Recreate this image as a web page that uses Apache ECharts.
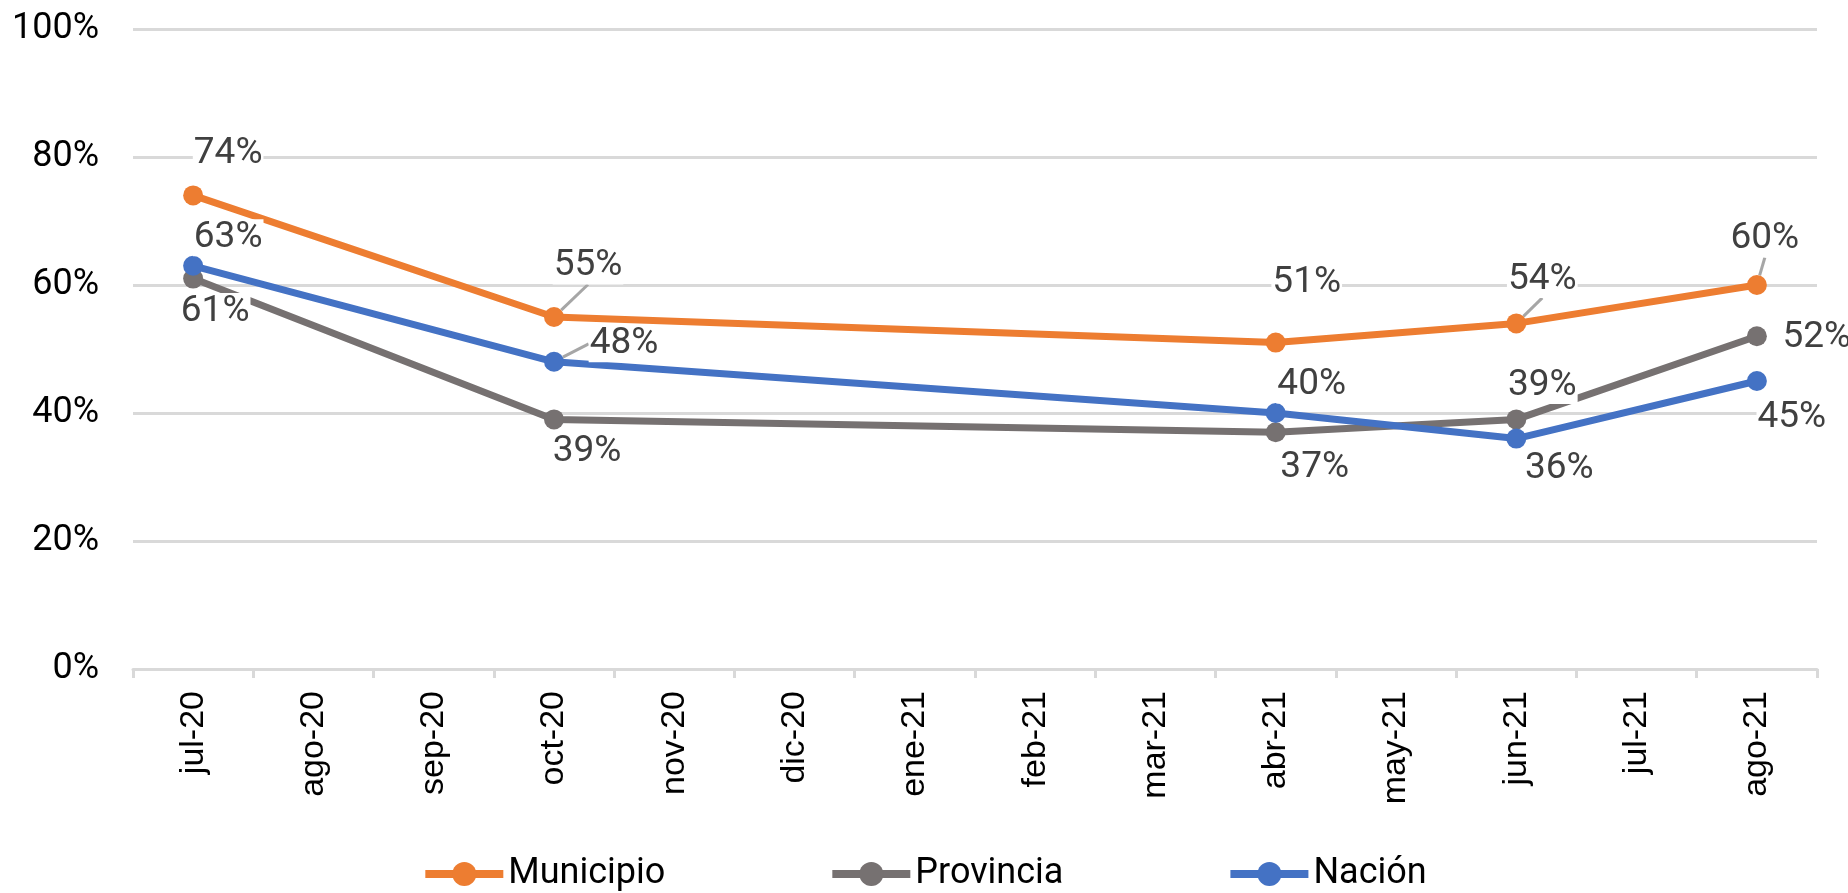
<!DOCTYPE html>
<html>
<head>
<meta charset="utf-8">
<title>Municipio, Provincia, Nación</title>
<script src="https://cdn.jsdelivr.net/npm/echarts@6/dist/echarts.min.js"></script>
<style>
  html, body { margin: 0; padding: 0; background: #fff; }
  #chart { width: 1848px; height: 893px; }
</style>
</head>
<body>
<div id="chart"></div>
<script>
// datos (meses sin medición quedan en null)
const months = ['jul-20', 'ago-20', 'sep-20', 'oct-20', 'nov-20', 'dic-20', 'ene-21',
  'feb-21', 'mar-21', 'abr-21', 'may-21', 'jun-21', 'jul-21', 'ago-21']
const municipio = [74, null, null, 55, null, null, null, null, null, 51, null, 54, null, 60]
const provincia = [61, null, null, 39, null, null, null, null, null, 37, null, 39, null, 52]
const nacion = [63, null, null, 48, null, null, null, null, null, 40, null, 36, null, 45]
const yTicks = [0, 20, 40, 60, 80, 100]

// desplazamiento de cada etiqueta respecto al punto (px), como en el original
const labelShift = [
  { 0: [35, -42], 3: [34, -51], 9: [31, -60], 11: [26, -44], 13: [8, -46] },
  { 0: [22, 33], 3: [33, 32], 9: [39, 36], 11: [26, -34], 13: [60, 2] },
  { 0: [35, -28], 3: [70, -18], 9: [36, -28], 11: [43, 30], 13: [35, 37] }
]
// puntos con línea guía
const leaderPoints = [[3, 11, 13], [], [3]]

const colors = ['#ed7d31', '#767171', '#4472c4']
const names = ['Municipio', 'Provincia', 'Nación']

const chart = echarts.init(document.getElementById('chart'))

const makeSeries = (values, idx) => ({
  name: names[idx],
  type: 'line',
  connectNulls: true,
  symbol: 'circle',
  symbolSize: 20,
  z: 2 + idx,
  lineStyle: { width: 7, color: colors[idx] },
  itemStyle: { color: colors[idx] },
  data: values.map((v, i) => {
    if (v === null) return null
    const item = { value: v }
    if (leaderPoints[idx].includes(i)) item.labelLine = { show: true }
    return item
  }),
  label: {
    show: true,
    position: 'inside',
    formatter: '{c}%',
    color: '#404040',
    fontFamily: 'Roboto',
    fontSize: 37,
    backgroundColor: '#fff',
    padding: [0, 1]
  },
  labelLine: {
    show: false,
    lineStyle: { color: '#a6a6a6', width: 3 }
  },
  labelLayout: (p) => {
    const s = labelShift[idx][p.dataIndex] || [0, -30]
    return { dx: s[0], dy: s[1] }
  },
  emphasis: { disabled: true }
})

chart.setOption({
  animation: false,
  grid: { left: 133, right: 31, top: 29, bottom: 224 },
  legend: {
    data: names,
    top: 851,
    left: 'center',
    itemWidth: 78,
    itemHeight: 30,
    itemGap: 163,
    lineStyle: { width: 8 },
    textStyle: { color: '#000', fontFamily: 'Roboto', fontSize: 36 }
  },
  xAxis: {
    type: 'category',
    data: months,
    axisLine: { lineStyle: { color: '#d9d9d9', width: 3 } },
    axisTick: { show: true, length: 9, lineStyle: { color: '#d9d9d9', width: 3 } },
    axisLabel: {
      interval: 0,
      rotate: 90,
      margin: 22,
      color: '#000',
      fontFamily: 'Liberation Sans',
      fontSize: 34
    }
  },
  yAxis: {
    type: 'value',
    min: yTicks[0],
    max: yTicks[yTicks.length - 1],
    interval: 20,
    axisLine: { show: false },
    axisTick: { show: false },
    splitLine: { lineStyle: { color: '#d9d9d9', width: 3 } },
    axisLabel: {
      formatter: '{value}%',
      margin: 34,
      color: '#000',
      fontFamily: 'Roboto',
      fontSize: 36
    }
  },
  series: [
    makeSeries(municipio, 0),
    makeSeries(provincia, 1),
    makeSeries(nacion, 2)
  ]
})
</script>
</body>
</html>
